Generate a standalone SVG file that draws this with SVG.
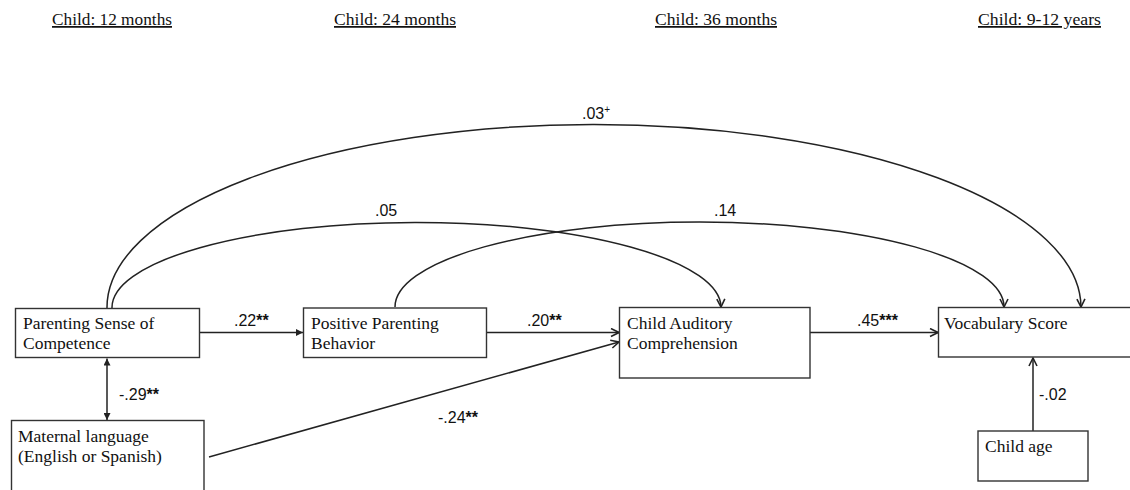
<svg xmlns="http://www.w3.org/2000/svg" width="1130" height="490" viewBox="0 0 1130 490">
<style>
.box{fill:#fff;stroke:#333;stroke-width:1.4}
.nt{font-family:"Liberation Serif","Times New Roman",serif;font-size:17.5px;fill:#111}
.hd{font-family:"Liberation Serif","Times New Roman",serif;font-size:17.5px;fill:#111;text-decoration:underline}
.lb{font-family:"Liberation Sans",Arial,sans-serif;font-size:16px;fill:#111}
.st{font-weight:bold}
.ln{fill:none;stroke:#222;stroke-width:1.5}
</style>
<defs>
<marker id="open" markerUnits="userSpaceOnUse" viewBox="0 0 10 10" refX="9" refY="5" markerWidth="10" markerHeight="10" orient="auto">
<path d="M1,1 L9,5 L1,9" fill="none" stroke="#222" stroke-width="1.6"/>
</marker>
<marker id="fill" markerUnits="userSpaceOnUse" viewBox="0 0 8 8" refX="8" refY="4" markerWidth="7" markerHeight="7" orient="auto-start-reverse">
<path d="M0,0 L8,4 L0,8 z" fill="#222"/>
</marker>
</defs>

<g id="headers">
<text class="hd" x="52" y="25" textLength="120" lengthAdjust="spacingAndGlyphs">Child: 12 months</text>
<text class="hd" x="334" y="25" textLength="122" lengthAdjust="spacingAndGlyphs">Child: 24 months</text>
<text class="hd" x="655" y="25" textLength="122" lengthAdjust="spacingAndGlyphs">Child: 36 months</text>
<text class="hd" x="978" y="25" textLength="123" lengthAdjust="spacingAndGlyphs">Child: 9-12 years</text>
</g>

<g id="connectors">
<path class="ln" d="M107,308 A487,183 0 0 1 1081,307" marker-end="url(#open)"/>
<path class="ln" d="M112,308 A304,85 0 0 1 721,307" marker-end="url(#open)"/>
<path class="ln" d="M395,307 A304.5,85 0 0 1 1004,307" marker-end="url(#open)"/>
<line class="ln" x1="199" y1="332.5" x2="303" y2="332.5" marker-end="url(#fill)"/>
<line class="ln" x1="487" y1="332.5" x2="619" y2="332.5" marker-end="url(#open)"/>
<line class="ln" x1="810" y1="332.5" x2="938" y2="332.5" marker-end="url(#open)"/>
<line class="ln" x1="209" y1="457" x2="619" y2="342" marker-end="url(#open)"/>
<line class="ln" x1="1033" y1="431" x2="1033" y2="358" marker-end="url(#open)"/>
<line class="ln" x1="107" y1="358.5" x2="107" y2="420" marker-start="url(#fill)" marker-end="url(#fill)"/>
<text class="lb" x="582" y="119">.03<tspan font-size="10" dy="-6">+</tspan></text>
<text class="lb" x="375" y="216">.05</text>
<text class="lb" x="714" y="216">.14</text>
<text class="lb" x="234" y="326">.22<tspan class="st">**</tspan></text>
<text class="lb" x="527" y="326">.20<tspan class="st">**</tspan></text>
<text class="lb" x="857" y="326">.45<tspan class="st">***</tspan></text>
<text class="lb" x="119" y="400">-.29<tspan class="st">**</tspan></text>
<text class="lb" x="438" y="423">-.24<tspan class="st">**</tspan></text>
<text class="lb" x="1039" y="400">-.02</text>
</g>

<g id="node-competence">
<rect class="box" x="15.5" y="308.5" width="184" height="49"/>
<text class="nt" x="23" y="329">Parenting Sense of</text>
<text class="nt" x="23" y="349">Competence</text>
</g>
<g id="node-behavior">
<rect class="box" x="303.5" y="308" width="183" height="49.5"/>
<text class="nt" x="311" y="329">Positive Parenting</text>
<text class="nt" x="311" y="349">Behavior</text>
</g>
<g id="node-comprehension">
<rect class="box" x="619.5" y="307.5" width="190.5" height="70.5"/>
<text class="nt" x="627" y="329">Child Auditory</text>
<text class="nt" x="627" y="349">Comprehension</text>
</g>
<g id="node-vocabulary">
<rect class="box" x="938.5" y="307.5" width="200" height="49.5"/>
<text class="nt" x="944" y="329">Vocabulary Score</text>
</g>
<g id="node-childage">
<rect class="box" x="978" y="431" width="110" height="50"/>
<text class="nt" x="985" y="452">Child age</text>
</g>
<g id="node-maternal">
<rect class="box" x="11.5" y="420.5" width="192.5" height="80"/>
<text class="nt" x="18" y="442">Maternal language</text>
<text class="nt" x="18" y="462">(English or Spanish)</text>
</g>
</svg>
